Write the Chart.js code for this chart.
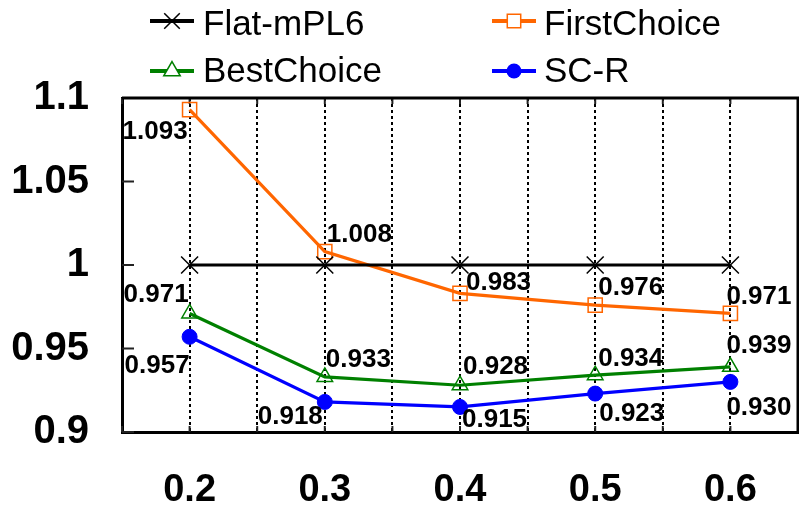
<!DOCTYPE html>
<html>
<head>
<meta charset="utf-8">
<style>
  html, body { margin: 0; padding: 0; background: #fff; }
  #c { display: block; }
</style>
<script src="https://cdn.jsdelivr.net/npm/chart.js@4/dist/chart.umd.min.js"></script>
</head>
<body>
<canvas id="c" width="799" height="512"></canvas>
<script>
// ---- data ----
const ratios = [0.2, 0.3, 0.4, 0.5, 0.6];
const seriesNames = ['Flat-mPL6', 'FirstChoice', 'BestChoice', 'SC-R'];
const flatMPL6 = [1, 1, 1, 1, 1];
const firstChoice = [1.093, 1.008, 0.983, 0.976, 0.971];
const bestChoice = [0.971, 0.933, 0.928, 0.934, 0.939];
const scR = [0.957, 0.918, 0.915, 0.923, 0.930];
const yTickValues = [0.9, 0.95, 1, 1.05, 1.1];
const xTickLabels = ['0.2', '0.3', '0.4', '0.5', '0.6'];

// ---- styling ----
const FONT = '"Liberation Sans", Arial, Helvetica, sans-serif';
const colors = ['#000000', '#FF6600', '#008000', '#0000FF'];

// value-label placement per point: [dx, dy, textAlign]
const labelPlacement = [
  null,
  [[-2, 22, 'right'], [2, -17, 'left'], [6, -11, 'left'], [3, -17, 'left'], [-4, -17, 'left']],
  [[-1, -19, 'right'], [1, -17, 'left'], [3, -18, 'left'], [3, -16, 'left'], [-4, -21, 'left']],
  [[0, 29, 'right'], [-2, 15, 'right'], [2, 13, 'left'], [4, 20, 'left'], [-4, 26, 'left']]
];

const toPoints = vals => ratios.map((r, i) => ({ x: r, y: vals[i] }));

const datasets = [
  { label: seriesNames[0], data: toPoints(flatMPL6), borderColor: colors[0], backgroundColor: 'rgba(0,0,0,0)',
    borderWidth: 3, pointStyle: 'crossRot', pointRadius: 12, pointBorderWidth: 1.5, pointBorderColor: colors[0] },
  { label: seriesNames[1], data: toPoints(firstChoice), borderColor: colors[1], backgroundColor: 'rgba(0,0,0,0)',
    borderWidth: 3.2, pointStyle: 'rect', pointRadius: 10, pointBorderWidth: 1.5, pointBorderColor: colors[1],
    pointBackgroundColor: 'rgba(0,0,0,0)' },
  { label: seriesNames[2], data: toPoints(bestChoice), borderColor: colors[2], backgroundColor: 'rgba(0,0,0,0)',
    borderWidth: 3.2, pointStyle: 'triangle', pointRadius: 9, pointBorderWidth: 1.5, pointBorderColor: colors[2],
    pointBackgroundColor: 'rgba(0,0,0,0)' },
  { label: seriesNames[3], data: toPoints(scR), borderColor: colors[3], backgroundColor: 'rgba(0,0,0,0)',
    borderWidth: 3.2, pointStyle: 'circle', pointRadius: 7.5, pointBorderWidth: 1, pointBorderColor: colors[3],
    pointBackgroundColor: colors[3] }
];
datasets.forEach(d => { d.clip = false; d.tension = 0; });

// small marker painter for the legend swatches
function drawMarker(ctx, style, x, y, r, color, fill) {
  ctx.save();
  ctx.strokeStyle = color;
  ctx.fillStyle = fill || color;
  ctx.lineWidth = 1.5;
  ctx.beginPath();
  if (style === 'crossRot') {
    const o = r * Math.SQRT1_2;
    ctx.moveTo(x - o, y - o); ctx.lineTo(x + o, y + o);
    ctx.moveTo(x - o, y + o); ctx.lineTo(x + o, y - o);
    ctx.stroke();
  } else if (style === 'rect') {
    const s = r * Math.SQRT1_2;
    ctx.fillStyle = '#fff';
    ctx.rect(x - s, y - s, 2 * s, 2 * s);
    ctx.fill(); ctx.stroke();
  } else if (style === 'triangle') {
    ctx.fillStyle = '#fff';
    for (let k = 0; k < 3; k++) {
      const a = k * 2 * Math.PI / 3;
      const px = x + Math.sin(a) * r, py = y - Math.cos(a) * r;
      k ? ctx.lineTo(px, py) : ctx.moveTo(px, py);
    }
    ctx.closePath(); ctx.fill(); ctx.stroke();
  } else {
    ctx.arc(x, y, r, 0, Math.PI * 2);
    ctx.fill();
  }
  ctx.restore();
}

const legendPlugin = {
  id: 'gridLegend',
  afterDraw(chart) {
    const ctx = chart.ctx;
    const cells = [
      { lx: 150, tx: 203, y: 21, base: 35 },
      { lx: 492, tx: 544, y: 21, base: 35 },
      { lx: 150, tx: 203, y: 71, base: 82 },
      { lx: 492, tx: 544, y: 71, base: 82 }
    ];
    chart.data.datasets.forEach((ds, i) => {
      const c = cells[i];
      ctx.save();
      ctx.strokeStyle = ds.borderColor;
      ctx.lineWidth = 4;
      ctx.beginPath();
      ctx.moveTo(c.lx, c.y); ctx.lineTo(c.lx + 44, c.y);
      ctx.stroke();
      ctx.restore();
      drawMarker(ctx, ds.pointStyle, c.lx + 22, c.y, ds.pointStyle === 'circle' ? 7.5 : (ds.pointStyle === 'crossRot' ? 11 : 9.5), ds.borderColor);
      ctx.save();
      ctx.fillStyle = '#000';
      ctx.font = '35px ' + FONT;
      ctx.textAlign = 'left';
      ctx.textBaseline = 'alphabetic';
      ctx.fillText(ds.label, c.tx, c.base);
      ctx.restore();
    });
  }
};

const frameTicksPlugin = {
  id: 'frameTicks',
  beforeDatasetsDraw(chart) {
    const { ctx, chartArea: a, scales: { x, y } } = chart;
    ctx.save();
    ctx.strokeStyle = '#222';
    ctx.lineWidth = 2;
    ctx.beginPath();
    // inward ticks on the left side
    y.ticks.forEach(t => {
      const py = y.getPixelForValue(t.value);
      ctx.moveTo(a.left, py); ctx.lineTo(a.left + 12, py);
    });
    // inward ticks on the bottom and top sides
    x.ticks.forEach(t => {
      const px = x.getPixelForValue(t.value);
      ctx.moveTo(px, a.bottom); ctx.lineTo(px, a.bottom - 6);
      ctx.moveTo(px, a.top); ctx.lineTo(px, a.top + 6);
    });
    ctx.stroke();
    // top and right edges of the frame
    ctx.strokeStyle = '#000';
    ctx.lineWidth = 3;
    ctx.beginPath();
    ctx.moveTo(a.left, a.top); ctx.lineTo(a.right, a.top); ctx.lineTo(a.right, a.bottom);
    ctx.stroke();
    ctx.restore();
  },
  afterDatasetsDraw(chart) {
    const ctx = chart.ctx;
    ctx.save();
    ctx.fillStyle = '#000';
    ctx.font = 'bold 26px ' + FONT;
    ctx.textBaseline = 'middle';
    chart.data.datasets.forEach((ds, i) => {
      const place = labelPlacement[i];
      if (!place) return;
      const meta = chart.getDatasetMeta(i);
      meta.data.forEach((pt, j) => {
        const [dx, dy, align] = place[j];
        ctx.textAlign = align;
        ctx.fillText(ds.data[j].y.toFixed(3), pt.x + dx, pt.y + dy);
      });
    });
    ctx.restore();
  }
};

new Chart(document.getElementById('c'), {
  type: 'line',
  data: { datasets },
  options: {
    responsive: false,
    devicePixelRatio: 1,
    animation: false,
    events: [],
    layout: { autoPadding: false, padding: { top: 98, right: 1, left: 0, bottom: 0 } },
    plugins: { legend: { display: false }, tooltip: { enabled: false } },
    scales: {
      x: {
        type: 'linear',
        min: 0.15,
        max: 0.65,
        afterBuildTicks(scale) {
          const ticks = [];
          for (let k = 0; k <= 10; k++) ticks.push({ value: +(0.15 + k * 0.05).toFixed(2) });
          scale.ticks = ticks;
        },
        afterFit(scale) {
          scale.height = 80;
          scale.paddingLeft = 0;
          scale.paddingRight = 0;
        },
        grid: { display: true, color: '#000', lineWidth: 2, drawTicks: false },
        border: { display: true, color: '#000', width: 3, dash: [3, 3] },
        ticks: {
          padding: 36,
          color: '#000',
          font: { family: FONT, size: 38, weight: 'bold' },
          maxRotation: 0,
          autoSkip: false,
          callback(v) {
            const s = (+v).toFixed(1);
            return xTickLabels.includes(s) && Math.abs(v - +s) < 1e-6 ? s : '';
          }
        }
      },
      y: {
        min: 0.9,
        max: 1.1,
        afterBuildTicks(scale) { scale.ticks = yTickValues.map(v => ({ value: v })); },
        afterFit(scale) {
          scale.width = 122;
          scale.paddingTop = 0;
          scale.paddingBottom = 0;
        },
        grid: { display: false, drawTicks: false },
        border: { display: true, color: '#000', width: 3 },
        ticks: {
          padding: 33,
          color: '#000',
          font: { family: FONT, size: 40, weight: 'bold' },
          callback: v => String(+(+v).toFixed(2))
        }
      }
    }
  },
  plugins: [frameTicksPlugin, legendPlugin]
});
</script>
</body>
</html>
